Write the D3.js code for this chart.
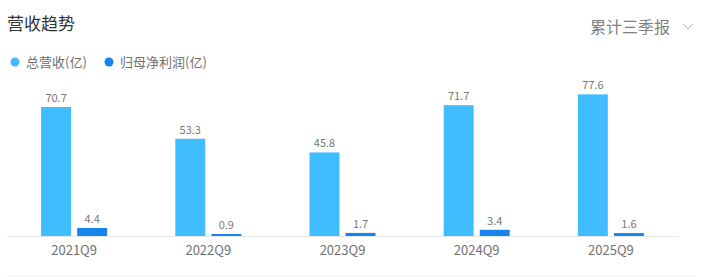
<!DOCTYPE html>
<html>
<head>
<meta charset="utf-8">
<script src="https://cdn.jsdelivr.net/npm/d3@7"></script>
<style>
  html, body { margin: 0; padding: 0; background: #fff; }
  svg { display: block; font-family: "Noto Sans CJK SC", "Noto Sans", sans-serif; }
</style>
</head>
<body>
<svg id="chart" width="702" height="277"></svg>
<script>
const categories = ["2021Q9", "2022Q9", "2023Q9", "2024Q9", "2025Q9"];
const revenue = [70.7, 53.3, 45.8, 71.7, 77.6];
const netProfit = [4.4, 0.9, 1.7, 3.4, 1.6];
const seriesNames = ["总营收(亿)", "归母净利润(亿)"];
const seriesColors = ["#3fbdfe", "#1784ee"];

const width = 702, height = 277;
const plot = { left: 7, right: 678, top: 90, bottom: 236 };

const svg = d3.select("#chart");

// header
svg.append("text")
  .attr("x", 7).attr("y", 30)
  .attr("font-size", 17).attr("fill", "#333")
  .text("营收趋势");

svg.append("text")
  .attr("x", 670).attr("y", 33)
  .attr("text-anchor", "end")
  .attr("font-size", 16).attr("fill", "#808080")
  .text("累计三季报");

svg.append("path")
  .attr("d", "M683,24 L688,29 L693,24")
  .attr("fill", "none").attr("stroke", "#b0b0b0").attr("stroke-width", 1);

// legend
const legendX = [15, 109];
const legend = svg.selectAll(".legend")
  .data(seriesNames)
  .enter().append("g")
  .attr("class", "legend")
  .attr("transform", (d, i) => `translate(${legendX[i]},62)`);

legend.append("circle")
  .attr("r", 4.5)
  .attr("fill", (d, i) => seriesColors[i]);

legend.append("text")
  .attr("x", 11).attr("dy", "0.36em")
  .attr("font-size", 13).attr("fill", "#707070")
  .text(d => d);

// scales
const x0 = d3.scaleBand().domain(categories).range([plot.left, plot.right]);
const x1 = d3.scaleBand().domain([0, 1]).range([-33, 33]).paddingInner(0.17);
const y = d3.scaleLinear().domain([0, 80]).range([plot.bottom, plot.top]);

const rows = categories.map((c, i) => ({ cat: c, values: [revenue[i], netProfit[i]] }));

const groups = svg.selectAll(".group")
  .data(rows)
  .enter().append("g")
  .attr("class", "group")
  .attr("transform", d => `translate(${x0(d.cat) + x0.bandwidth() / 2},0)`);

const bars = groups.selectAll(".bar")
  .data(d => d.values.map((v, k) => ({ v, k })))
  .enter();

bars.append("rect")
  .attr("x", d => x1(d.k))
  .attr("width", x1.bandwidth())
  .attr("y", d => Math.min(y(d.v), plot.bottom - 2))
  .attr("height", d => Math.max(plot.bottom - y(d.v), 2))
  .attr("fill", d => seriesColors[d.k]);

bars.append("text")
  .attr("x", d => x1(d.k) + x1.bandwidth() / 2)
  .attr("y", d => Math.min(y(d.v), plot.bottom - 2) - 5)
  .attr("text-anchor", "middle")
  .attr("font-size", 11).attr("fill", "#777")
  .text(d => d.v.toFixed(1));

// x axis
const xAxis = svg.append("g")
  .attr("transform", `translate(0,${plot.bottom})`)
  .call(d3.axisBottom(x0).tickSize(0).tickPadding(10));

xAxis.select(".domain").attr("stroke", "#e8e8e8");
xAxis.selectAll("text")
  .attr("font-size", 13).attr("fill", "#707070")
  .attr("font-family", "\"Noto Sans CJK SC\", sans-serif");

// bottom divider
svg.append("line")
  .attr("x1", 7).attr("x2", 695)
  .attr("y1", 276.5).attr("y2", 276.5)
  .attr("stroke", "#f0f0f0");
</script>
</body>
</html>
